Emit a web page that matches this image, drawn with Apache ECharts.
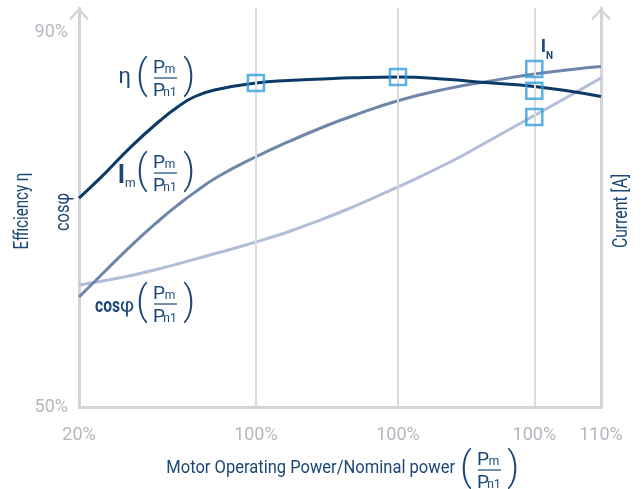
<!DOCTYPE html>
<html>
<head>
<meta charset="utf-8">
<script src="https://cdn.jsdelivr.net/npm/echarts@6/dist/echarts.min.js"></script>
<style>
  html, body { margin: 0; padding: 0; background: #fff; }
  #chart { width: 643px; height: 489px; }
</style>
</head>
<body>
<div id="chart"></div>
<script>
// x positions (share of nominal power) and the printed tick labels
const xTicks = [20, 50.5, 75, 98.5, 110];
const xTickLabels = ['20%', '100%', '100%', '100%', '110%'];
const yTicks = [50, 90];

// curves
const powerX = [20, 24, 29, 34, 37, 40, 44, 50.5, 56, 62, 67, 75, 84, 90, 98.5, 105, 110];
const efficiency = [72.29, 74.62, 77.78, 80.56, 82.0, 83.12, 83.9, 84.56, 84.83, 84.99, 85.11, 85.2, 84.93, 84.61, 84.19, 83.65, 83.12];
const current = [61.73, 64.19, 67.22, 70.0, 71.53, 72.92, 74.58, 76.69, 78.27, 79.84, 81.01, 82.67, 84.01, 84.68, 85.52, 86.01, 86.32];
const cosPhi = [63.01, 63.44, 64.03, 64.77, 65.25, 65.77, 66.45, 67.6, 68.67, 70.05, 71.28, 73.47, 76.13, 78.16, 81.09, 83.33, 85.09];

// square markers
const markX = [50.5, 75, 98.5, 98.5, 98.5];
const markY = [84.56, 85.2, 83.73, 86.05, 80.93];

const FONT = "Roboto, 'Noto Sans', sans-serif";
const NAVY = '#1a4775';
const GRAY = '#b4b7be';
const AXIS = '#d3d4d9';

const pairs = (ys) => powerX.map((x, i) => [x, ys[i]]);

// 文字标注
function label(x, y, text, size, extra, el) {
  return Object.assign({
    type: 'text', x: x, y: y, z: 100,
    style: Object.assign({
      text: text, fill: NAVY, fontSize: size, fontFamily: FONT,
      align: 'center', verticalAlign: 'middle'
    }, extra || {})
  }, el || {});
}

// Pm / Pn1 in brackets
function fraction(cx, cy) {
  return [
    label(cx - 23, cy, '(', 40, { fontWeight: 300 }, { scaleX: 0.9 }),
    label(cx + 24, cy, ')', 40, { fontWeight: 300 }, { scaleX: 0.9 }),
    label(cx - 6, cy - 10, 'P', 19),
    label(cx + 5, cy - 8, 'm', 12),
    { type: 'line', z: 100, shape: { x1: cx - 11, y1: cy, x2: cx + 12, y2: cy }, style: { stroke: NAVY, lineWidth: 1.2 } },
    label(cx - 6, cy + 13, 'P', 19),
    label(cx + 5, cy + 15, 'n1', 12)
  ];
}

const arrow = 'path://M0,11 L10,0 L20,11 L18.2,12.6 L10,3.6 L1.8,12.6 Z';
const up = Math.PI / 2;

const chart = echarts.init(document.getElementById('chart'));

const option = {
  animation: false,
  grid: { left: 79, right: 42, top: 8, bottom: 82, containLabel: false, outerBoundsMode: 'none' },
  xAxis: {
    type: 'value', min: 20, max: 110,
    axisLine: { lineStyle: { color: AXIS, width: 3 } },
    axisTick: { show: false },
    splitLine: { show: false },
    axisLabel: {
      customValues: xTicks,
      formatter: (v) => xTickLabels[xTicks.indexOf(v)],
      color: GRAY, fontSize: 18, fontFamily: FONT, margin: 19
    }
  },
  yAxis: [
    {
      type: 'value', min: 50, max: 92.56, position: 'left',
      axisLine: { show: true, lineStyle: { color: AXIS, width: 3 }, symbol: ['none', arrow], symbolSize: [20, 12.6], symbolOffset: [0, -6] },
      axisTick: { show: false },
      splitLine: { show: false },
      axisLabel: {
        customValues: yTicks, formatter: '{value}%',
        color: GRAY, fontSize: 18, fontFamily: FONT, margin: 11
      }
    },
    {
      type: 'value', min: 50, max: 92.56, position: 'right',
      axisLine: { show: true, lineStyle: { color: AXIS, width: 3 }, symbol: ['none', arrow], symbolSize: [20, 12.6], symbolOffset: [0, -6] },
      axisTick: { show: false },
      splitLine: { show: false },
      axisLabel: { show: false }
    }
  ],
  series: [
    {
      name: 'grid', type: 'line', data: [], z: 1, silent: true,
      markLine: {
        silent: true, symbol: 'none', label: { show: false },
        lineStyle: { color: '#dcdcdf', width: 2, type: 'solid' },
        data: xTicks.slice(1, 4).map((x) => ({ xAxis: x }))
      }
    },
    {
      name: 'cosφ', type: 'line', data: pairs(cosPhi), smooth: 0.5, showSymbol: false,
      lineStyle: { color: '#b0bed7', width: 3 }
    },
    {
      name: 'Im', type: 'line', data: pairs(current), smooth: 0.5, showSymbol: false,
      lineStyle: { color: '#6d86aa', width: 3 }
    },
    {
      name: 'η', type: 'line', data: pairs(efficiency), smooth: 0.5, showSymbol: false,
      lineStyle: { color: '#0b3a66', width: 3 }
    },
    {
      name: 'points', type: 'scatter', symbol: 'rect', symbolSize: 16, z: 5,
      data: markX.map((x, i) => [x, markY[i]]),
      itemStyle: { color: 'rgba(0,0,0,0)', borderColor: '#2f9ddb', borderWidth: 2.5 }
    }
  ],
  graphic: [
    // axis titles
    label(23, 211, 'Efficiency η', 21, null, { rotation: up, scaleX: 0.72 }),
    label(64, 212, 'cosφ', 20, null, { rotation: up, scaleX: 0.82 }),
    label(622, 211, 'Current [A]', 21, null, { rotation: up, scaleX: 0.75 }),
    label(455, 468, 'Motor Operating Power/Nominal power', 19, { align: 'right' }, { scaleX: 0.87 }),
    ...fraction(489, 470),
    // curve labels
    label(131, 77, 'η', 22, { align: 'right' }),
    ...fraction(165, 78),
    label(125, 177, 'I', 25, { align: 'right', fontWeight: 'bold' }),
    label(125, 184, 'm', 12, { align: 'left' }),
    ...fraction(165, 173),
    label(120, 307, 'cos', 20, { align: 'right', fontWeight: 'bold' }, { scaleX: 0.78 }),
    label(120, 307, 'φ', 20, { align: 'left' }),
    ...fraction(165, 304),
    label(546, 47, 'I', 18, { align: 'right', fontWeight: 'bold' }),
    label(546, 56, 'N', 10, { align: 'left', fontWeight: 'bold' })
  ]
};

chart.setOption(option);
window.addEventListener('resize', () => chart.resize());
</script>
</body>
</html>
